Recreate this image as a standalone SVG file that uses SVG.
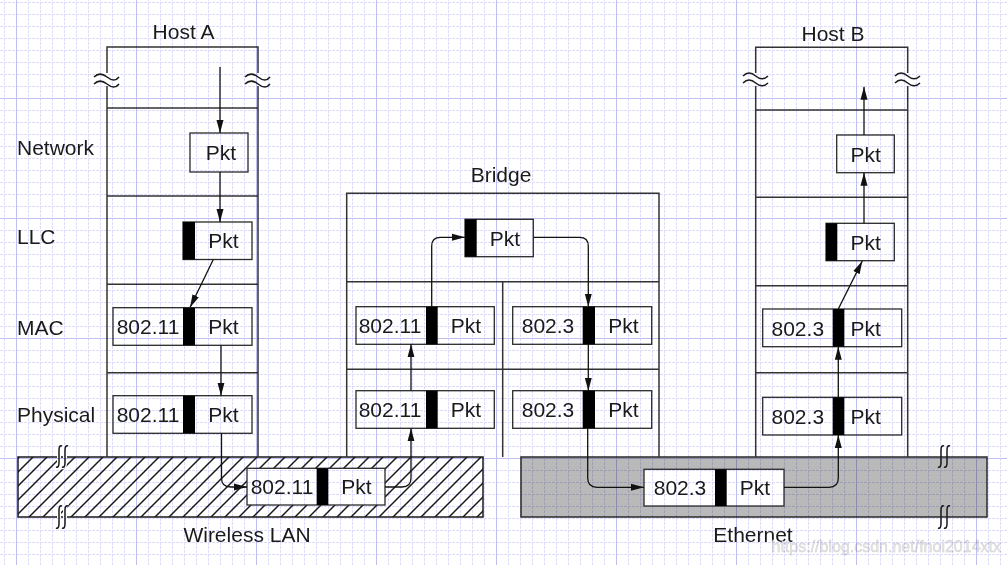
<svg xmlns="http://www.w3.org/2000/svg" width="1007" height="565" viewBox="0 0 1007 565">
<style>
text{font-family:"Liberation Sans",Arial,Helvetica,sans-serif;fill:#1a1a1a;font-size:21px}
.c{text-anchor:middle}
.host{fill:none;stroke:#333;stroke-width:1.5}
.box{fill:#fff;stroke:#2a2a2a;stroke-width:1.3}
.bar{fill:#000}
.conn{fill:none;stroke:#111;stroke-width:1.3}
.sq{fill:none;stroke:#1a1a1a;stroke-width:1.5}
.halo{fill:none;stroke:#fff;stroke-width:4}
.wm{font-size:16px;fill:#e4e4e4;stroke:#cfcfcf;stroke-width:0.4}
</style>
<defs>
<marker id="ah" markerUnits="userSpaceOnUse" markerWidth="13" markerHeight="8" refX="13" refY="4" orient="auto">
<path d="M0,0.5 L13,4 L0,7.5 z" fill="#111"/>
</marker>
<pattern id="hatch" patternUnits="userSpaceOnUse" width="14" height="14">
<rect width="14" height="14" fill="#fff"/>
<path d="M0,14 L14,0 M-2,2 L2,-2 M12,16 L16,12" stroke="#1a1a1a" stroke-width="1.5"/>
</pattern>
<pattern id="minor" patternUnits="userSpaceOnUse" x="4" y="2" width="12" height="12">
<path d="M0.5,0 V12 M0,0.5 H12" stroke="#dcdcf8" stroke-width="1" stroke-dasharray="3 1"/>
</pattern>
<pattern id="major" patternUnits="userSpaceOnUse" x="16" y="98" width="120" height="120">
<path d="M0.5,0 V120 M0,0.5 H120" stroke="#c0c0f0" stroke-width="1"/>
</pattern>
</defs>
<rect width="1007" height="565" fill="#fff"/>

<!-- Wireless LAN -->
<g id="wireless-lan">
<rect x="18" y="457" width="465" height="60" fill="url(#hatch)" stroke="#1a1a1a" stroke-width="1.5"/>
<path class="halo" d="M62,446 C60,445 59,447 59,450 L59,463 C59,466 58,468 56,467 M68,446 C66,445 65,447 65,450 L65,463 C65,466 64,468 62,467"/>
<path class="sq" d="M62,446 C60,445 59,447 59,450 L59,463 C59,466 58,468 56,467 M68,446 C66,445 65,447 65,450 L65,463 C65,466 64,468 62,467"/>
<path class="halo" d="M62,506 C60,505 59,507 59,510 L59,524 C59,527 58,529 56,528 M68,506 C66,505 65,507 65,510 L65,524 C65,527 64,529 62,528"/>
<path class="sq" d="M62,506 C60,505 59,507 59,510 L59,524 C59,527 58,529 56,528 M68,506 C66,505 65,507 65,510 L65,524 C65,527 64,529 62,528"/>
<text class="c" x="247" y="541.5">Wireless LAN</text>
</g>

<!-- Ethernet -->
<g id="ethernet">
<rect x="521" y="457" width="466" height="60" fill="#b9b9b9" stroke="#2a2a2a" stroke-width="1.5"/>
<path class="sq" d="M944,446 C942,445 941,447 941,450 L941,463 C941,466 940,468 938,467 M950,446 C948,445 947,447 947,450 L947,463 C947,466 946,468 944,467"/>
<path class="sq" d="M944,506 C942,505 941,507 941,510 L941,524 C941,527 940,529 938,528 M950,506 C948,505 947,507 947,510 L947,524 C947,527 946,529 944,528"/>
<text class="c" x="753" y="541.5">Ethernet</text>
</g>

<!-- Host A -->
<g id="host-a">
<path class="host" d="M107,457 V86 M107,73 V47 H258 V73 M258,86 V457 M107,108 H258 M107,196 H258 M107,284.3 H258 M107,372.7 H258"/>
<path class="sq" d="M94,77 C98,73 102,73 107,77 S116,81 119,77 M94,84 C98,80 102,80 107,84 S116,88 119,84"/>
<path class="sq" d="M245,77 C249,73 253,73 258,77 S267,81 270,77 M245,84 C249,80 253,80 258,84 S267,88 270,84"/>
<text class="c" x="183.5" y="38.5">Host A</text>
</g>

<!-- Host B -->
<g id="host-b">
<path class="host" d="M755.7,457 V86 M755.7,73 V47.3 H907.7 V73 M907.7,86 V457 M755.7,110 H907.7 M755.7,197.3 H907.7 M755.7,285.7 H907.7 M755.7,372.7 H907.7"/>
<path class="sq" d="M743,76 C747,72 751,72 755.7,76 S764,80 768,76 M743,83 C747,79 751,79 755.7,83 S764,87 768,83"/>
<path class="sq" d="M895,76 C899,72 903,72 907.7,76 S916,80 920,76 M895,83 C899,79 903,79 907.7,83 S916,87 920,83"/>
<text class="c" x="833" y="40.5">Host B</text>
</g>

<!-- Bridge -->
<g id="bridge">
<path class="host" d="M346.7,457 V193.3 H659 V457 M346.7,281.7 H659 M346.7,369.3 H659 M502.7,281.7 V457"/>
<text class="c" x="501" y="181.7">Bridge</text>
</g>

<!-- Layer labels -->
<g id="layer-labels">
<text x="17" y="155">Network</text>
<text x="17" y="244">LLC</text>
<text x="17" y="335">MAC</text>
<text x="17" y="422">Physical</text>
</g>

<!-- Packets Host A -->
<g id="a-net-pkt"><rect class="box" x="190" y="133" width="58" height="39"/><text class="c" x="221" y="160">Pkt</text></g>
<g id="a-llc-pkt"><rect class="box" x="183" y="222" width="69" height="37.5"/><rect class="bar" x="183" y="222" width="12" height="37.5"/><text class="c" x="223.5" y="248">Pkt</text></g>
<g id="a-mac-pkt"><rect class="box" x="113" y="307.7" width="139" height="37.6"/><rect class="bar" x="183" y="307.7" width="12" height="37.6"/><text class="c" x="148" y="334">802.11</text><text class="c" x="223.5" y="334">Pkt</text></g>
<g id="a-phy-pkt"><rect class="box" x="113" y="395.7" width="139" height="37.6"/><rect class="bar" x="183" y="395.7" width="12" height="37.6"/><text class="c" x="148" y="422">802.11</text><text class="c" x="223.5" y="422">Pkt</text></g>

<!-- Packets Bridge -->
<g id="b-top-pkt"><rect class="box" x="465" y="219.3" width="68.3" height="37.4"/><rect class="bar" x="465" y="219.3" width="11.7" height="37.4"/><text class="c" x="505" y="245.5">Pkt</text></g>
<g id="b-mac-l"><rect class="box" x="356" y="306.7" width="138.3" height="37.6"/><rect class="bar" x="426" y="306.7" width="11.7" height="37.6"/><text class="c" x="390" y="333">802.11</text><text class="c" x="466" y="333">Pkt</text></g>
<g id="b-mac-r"><rect class="box" x="512.7" y="306.7" width="139" height="37.6"/><rect class="bar" x="582.7" y="306.7" width="12.3" height="37.6"/><text class="c" x="548" y="333">802.3</text><text class="c" x="623.3" y="333">Pkt</text></g>
<g id="b-phy-l"><rect class="box" x="356" y="390.7" width="138.3" height="37.6"/><rect class="bar" x="426" y="390.7" width="11.7" height="37.6"/><text class="c" x="390" y="417">802.11</text><text class="c" x="466" y="417">Pkt</text></g>
<g id="b-phy-r"><rect class="box" x="512.7" y="390.7" width="139" height="37.6"/><rect class="bar" x="582.7" y="390.7" width="12.3" height="37.6"/><text class="c" x="548" y="417">802.3</text><text class="c" x="623.3" y="417">Pkt</text></g>

<!-- Packets on media -->
<g id="wlan-pkt"><rect class="box" x="247" y="468.3" width="138" height="36.7"/><rect class="bar" x="316.7" y="468.3" width="11.6" height="36.7"/><text class="c" x="282" y="494">802.11</text><text class="c" x="356.5" y="494">Pkt</text></g>
<g id="eth-pkt"><rect class="box" x="644" y="469.3" width="140" height="36.7"/><rect class="bar" x="715" y="469.3" width="11.7" height="36.7"/><text class="c" x="680" y="495">802.3</text><text class="c" x="755" y="495">Pkt</text></g>

<!-- Packets Host B -->
<g id="hb-net-pkt"><rect class="box" x="836.7" y="135" width="57.6" height="37.7"/><text class="c" x="865.6" y="161.5">Pkt</text></g>
<g id="hb-llc-pkt"><rect class="box" x="826" y="223.3" width="68.3" height="37.4"/><rect class="bar" x="826" y="223.3" width="11.3" height="37.4"/><text class="c" x="865.7" y="249.5">Pkt</text></g>
<g id="hb-mac-pkt"><rect class="box" x="762.7" y="309" width="139" height="37.7"/><rect class="bar" x="832.7" y="309" width="11.6" height="37.7"/><text class="c" x="797.8" y="335.5">802.3</text><text class="c" x="865.7" y="335.5">Pkt</text></g>
<g id="hb-phy-pkt"><rect class="box" x="762.7" y="397.3" width="139" height="37.7"/><rect class="bar" x="832.7" y="397.3" width="11.6" height="37.7"/><text class="c" x="797.8" y="424">802.3</text><text class="c" x="865.7" y="424">Pkt</text></g>

<!-- Connectors -->
<g id="connectors">
<path class="conn" marker-end="url(#ah)" d="M220,67 V133"/>
<path class="conn" marker-end="url(#ah)" d="M220,172 V222"/>
<path class="conn" marker-end="url(#ah)" d="M213.3,259.5 L190,307.5"/>
<path class="conn" marker-end="url(#ah)" d="M221,345.3 V395.7"/>
<path class="conn" marker-end="url(#ah)" d="M221.5,433.3 V478 Q221.5,487 230.5,487 H247"/>
<path class="conn" marker-end="url(#ah)" d="M385,487 H402 Q411,487 411,478 V428.3"/>
<path class="conn" marker-end="url(#ah)" d="M411,390.7 V344.3"/>
<path class="conn" marker-end="url(#ah)" d="M431.7,306.7 V246 Q431.7,237.3 440.5,237.3 H465"/>
<path class="conn" marker-end="url(#ah)" d="M533.3,237.3 H579.5 Q588.3,237.3 588.3,246 V306.7"/>
<path class="conn" marker-end="url(#ah)" d="M588.3,344.3 V390.7"/>
<path class="conn" marker-end="url(#ah)" d="M587.7,428.3 V478 Q587.7,487.3 597,487.3 H644"/>
<path class="conn" marker-end="url(#ah)" d="M784,487.3 H829 Q838.3,487.3 838.3,478 V435"/>
<path class="conn" marker-end="url(#ah)" d="M838.3,397.3 V346.7"/>
<path class="conn" marker-end="url(#ah)" d="M838.3,309 L862.3,261"/>
<path class="conn" marker-end="url(#ah)" d="M864,223.3 V172.7"/>
<path class="conn" marker-end="url(#ah)" d="M864,135 V86.7"/>
</g>

<text class="wm" x="771.5" y="551.5">https://blog.csdn.net/fnoi2014xtx</text>

<!-- grid paper overlay -->
<g id="grid" style="mix-blend-mode:multiply" pointer-events="none">
<rect width="1007" height="565" fill="url(#minor)"/>
<rect width="1007" height="565" fill="url(#major)"/>
</g>
</svg>
